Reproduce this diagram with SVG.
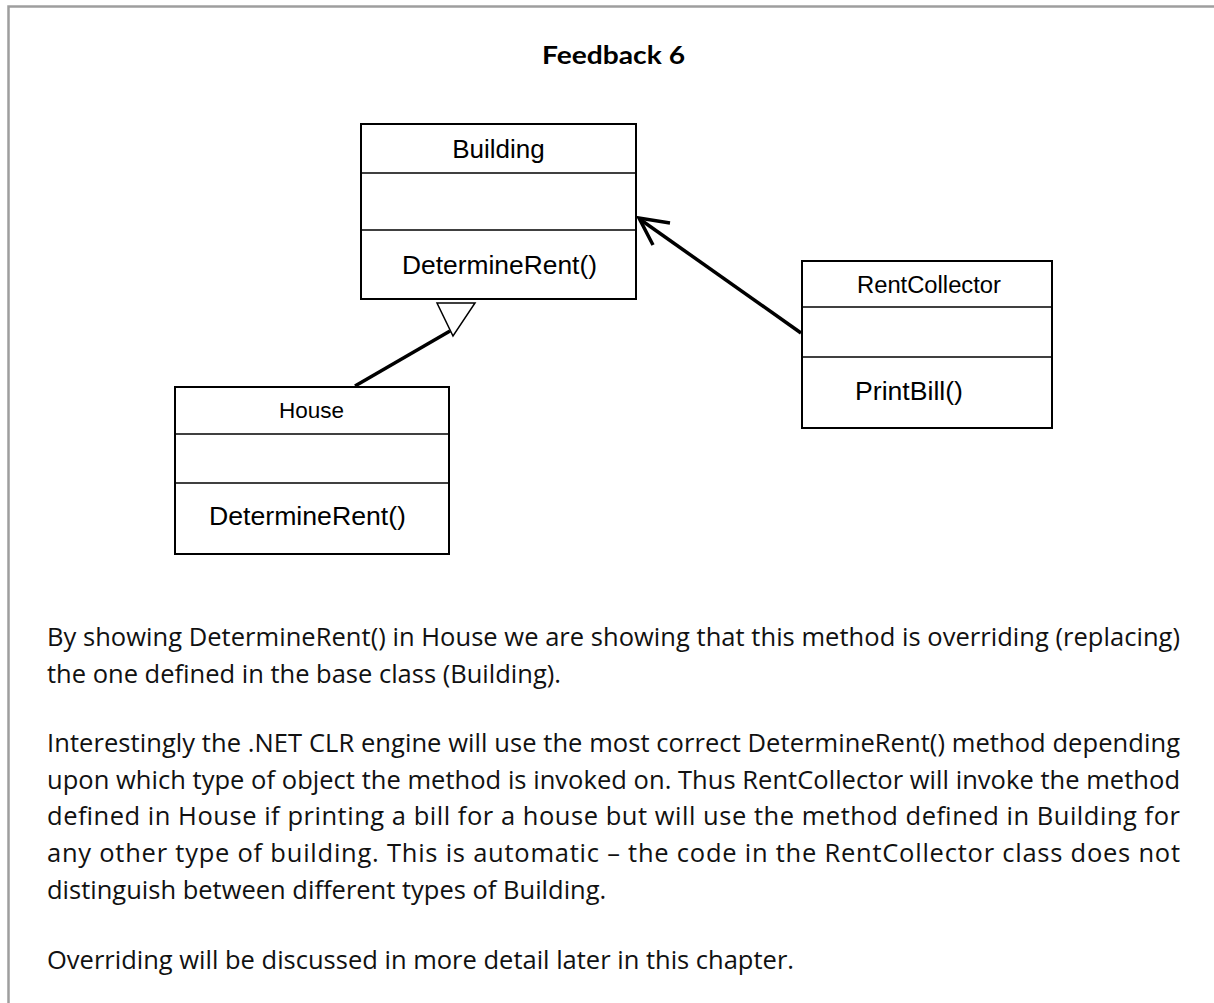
<svg xmlns="http://www.w3.org/2000/svg" width="1214" height="1003" viewBox="0 0 1214 1003">
<style>
.frame{fill:none;stroke:#9e9e9e;stroke-width:2.5}
.box{fill:#fff;stroke:#000;stroke-width:2}
.div{stroke:#000;stroke-width:1.6}
.uml{font-family:"Liberation Sans",Arial,sans-serif;fill:#000}
.para{font-family:"Open Sans","Noto Sans",sans-serif;font-size:25.5px;fill:#111}
.title{font-family:Lato,"Open Sans",sans-serif;font-weight:700;font-size:24px;fill:#000}
.conn{stroke:#000;stroke-width:3.5;fill:none}
</style>
<rect width="1214" height="1003" fill="#fff"/>
<g id="frame"><path class="frame" d="M8.5 1003 V6.5 H1214"/></g>
<g id="title"><text class="title" x="542" y="64" textLength="143" lengthAdjust="spacingAndGlyphs">Feedback 6</text></g>
<g id="building">
<rect class="box" x="361" y="124" width="275" height="175"/>
<line class="div" x1="361" y1="173" x2="636" y2="173"/>
<line class="div" x1="361" y1="230" x2="636" y2="230"/>
<text class="uml" x="498.5" y="158" font-size="26" text-anchor="middle">Building</text>
<text class="uml" x="402" y="274" font-size="26" textLength="195" lengthAdjust="spacingAndGlyphs">DetermineRent()</text>
</g>
<g id="house">
<rect class="box" x="175" y="387" width="274" height="167"/>
<line class="div" x1="175" y1="434" x2="449" y2="434"/>
<line class="div" x1="175" y1="483" x2="449" y2="483"/>
<text class="uml" x="311.5" y="418" font-size="22.5" text-anchor="middle">House</text>
<text class="uml" x="209" y="525" font-size="26.5" textLength="197" lengthAdjust="spacingAndGlyphs">DetermineRent()</text>
</g>
<g id="rentcollector">
<rect class="box" x="802" y="261" width="250" height="167"/>
<line class="div" x1="802" y1="307" x2="1052" y2="307"/>
<line class="div" x1="802" y1="357" x2="1052" y2="357"/>
<text class="uml" x="857" y="293" font-size="23.5" textLength="144" lengthAdjust="spacingAndGlyphs">RentCollector</text>
<text class="uml" x="855" y="400" font-size="26.5" textLength="108" lengthAdjust="spacingAndGlyphs">PrintBill()</text>
</g>
<g id="connectors">
<line class="conn" x1="355" y1="386" x2="450" y2="331"/>
<polygon points="437,303 475,303 453,336" fill="#fff" stroke="#000" stroke-width="1.5"/>
<line class="conn" x1="801" y1="333" x2="641" y2="220"/>
<polyline class="conn" points="670,223 639,218 653,245"/>
</g>
<g id="text">
<text class="para" x="47" y="646" textLength="1133" lengthAdjust="spacing">By showing DetermineRent() in House we are showing that this method is overriding (replacing)</text>
<text class="para" x="47" y="683">the one defined in the base class (Building).</text>
<text class="para" x="47" y="752" textLength="1133" lengthAdjust="spacing">Interestingly the .NET CLR engine will use the most correct DetermineRent() method depending</text>
<text class="para" x="47" y="788.5" textLength="1133" lengthAdjust="spacing">upon which type of object the method is invoked on. Thus RentCollector will invoke the method</text>
<text class="para" x="47" y="825" textLength="1133" lengthAdjust="spacing">defined in House if printing a bill for a house but will use the method defined in Building for</text>
<text class="para" x="47" y="861.5" textLength="1133" lengthAdjust="spacing">any other type of building. This is automatic – the code in the RentCollector class does not</text>
<text class="para" x="47" y="898.5">distinguish between different types of Building.</text>
<text class="para" x="47" y="969">Overriding will be discussed in more detail later in this chapter.</text>
</g>
</svg>
